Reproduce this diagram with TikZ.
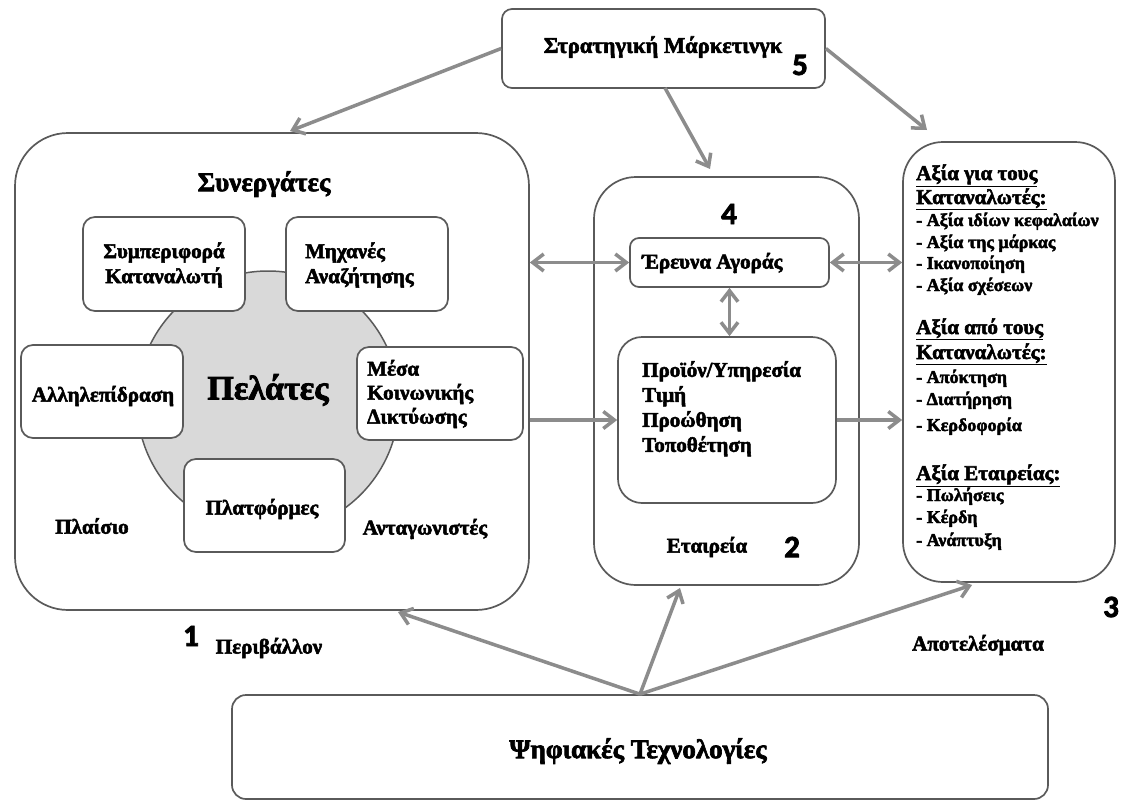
\documentclass[tikz,border=0pt]{standalone}
\usepackage{fontspec}
\setmainfont{Liberation Serif}[BoldFeatures={FakeBold=2.5}]
\newfontfamily\numfont{Carlito Bold}[FakeBold=2.5]
\usetikzlibrary{arrows.meta}
\definecolor{bordergray}{HTML}{5A5A5A}
\definecolor{arrowgray}{HTML}{8C8C8C}
\definecolor{circlegray}{HTML}{D9D9D9}
\begin{document}
\begin{tikzpicture}[x=1pt,y=-1pt,
  >={Straight Barb[length=11pt,width=17pt]},
  frame/.style={draw=bordergray, line width=1.7pt, fill=white, inner sep=0pt},
  lab/.style={font=\bfseries\fontsize{21}{25}\selectfont, inner sep=0pt, align=center},
  item/.style={font=\bfseries\fontsize{18}{22}\selectfont, inner sep=0pt, anchor=base west},
  head/.style={font=\bfseries\fontsize{21}{24}\selectfont, inner sep=0pt, anchor=base west},
  num/.style={font=\numfont\fontsize{31}{33}\selectfont, inner sep=0pt},
  arr/.style={draw=arrowgray, line width=3.5pt, ->},
  darr/.style={draw=arrowgray, line width=3.5pt, <->},
]
\useasboundingbox (0,0) rectangle (1121,803);
\fill[white] (0,0) rectangle (1121,803);

% ---- boxes
\node[frame, rounded corners=10pt, minimum width=323pt, minimum height=79pt] (strat) at (663.5,48.5) {};
\node[frame, rounded corners=53pt, minimum width=514pt, minimum height=477pt] (env) at (272,371.5) {};
\node[circle, draw=bordergray, line width=1.5pt, fill=circlegray, minimum size=262pt, inner sep=0pt] (cust) at (268,402) {};
\node[frame, rounded corners=12pt, minimum width=162pt, minimum height=94pt] (cb) at (164,264) {};
\node[frame, rounded corners=12pt, minimum width=162pt, minimum height=94pt] (se) at (367,264) {};
\node[frame, rounded corners=12pt, minimum width=162pt, minimum height=93pt] (ia) at (102,391.5) {};
\node[frame, rounded corners=12pt, minimum width=166pt, minimum height=93pt] (sm) at (440,393.5) {};
\node[frame, rounded corners=12pt, minimum width=161pt, minimum height=93pt] (pl) at (264.5,505.5) {};

\node[frame, rounded corners=42pt, minimum width=265pt, minimum height=408pt] (comp) at (726.5,381) {};
\node[frame, rounded corners=9pt, minimum width=199pt, minimum height=49pt] (ra) at (729.5,262.5) {};
\node[frame, rounded corners=24pt, minimum width=218pt, minimum height=166pt] (pr) at (727,420) {};
\node[frame, rounded corners=40pt, minimum width=212pt, minimum height=440pt] (res) at (1009,362) {};
\node[frame, rounded corners=14pt, minimum width=816pt, minimum height=104pt] (tech) at (640,747) {};

% ---- texts
\node[lab, font=\bfseries\fontsize{22.5}{26}\selectfont] (tstrat) at (663,47) {Στρατηγική Μάρκετινγκ};
\node[num] (n5) at (800,65) {5};
\node[lab, font=\bfseries\fontsize{27}{30}\selectfont] (tpart) at (264,184) {Συνεργάτες};
\node[lab, font=\bfseries\fontsize{34}{38}\selectfont] (tcust) at (268,390) {Πελάτες};
\node[lab] (tcb) at (164,265) {Συμπεριφορά\\Καταναλωτή};
\node[lab, align=left, anchor=west] (tse) at (305,265) {Μηχανές\\Αναζήτησης};
\node[lab] (tia) at (103,396) {Αλληλεπίδραση};
\node[lab, align=left, anchor=west, font=\bfseries\fontsize{21}{24}\selectfont] (tsm) at (367,394) {Μέσα\\Κοινωνικής\\Δικτύωσης};
\node[lab] (tpl) at (262,509) {Πλατφόρμες};
\node[lab] (tfr) at (92,526) {Πλαίσιο};
\node[lab] (tcomp) at (425,529) {Ανταγωνιστές};
\node[num] (n1) at (191,636) {1};
\node[lab] (tenv) at (269,648) {Περιβάλλον};

\node[num] (n4) at (729,214) {4};
\node[lab, anchor=west] (tra) at (642,263) {Έρευνα Αγοράς};
\node[lab, align=left, anchor=north west] (tpr) at (642,361) {Προϊόν/Υπηρεσία\\Τιμή\\Προώθηση\\Τοποθέτηση};
\node[lab] (tco) at (707,547) {Εταιρεία};
\node[num] (n2) at (792,547) {2};

\node[head] (r1) at (916,180) {\underline{Αξία για τους}};
\node[head] (r2) at (916,204) {\underline{Καταναλωτές:}};
\node[item] (r3) at (916,226) {- Αξία ιδίων κεφαλαίων};
\node[item] (r4) at (916,248) {- Αξία της μάρκας};
\node[item] (r5) at (916,269) {- Ικανοποίηση};
\node[item] (r6) at (916,291) {- Αξία σχέσεων};
\node[head] (r7) at (916,334) {\underline{Αξία από τους}};
\node[head] (r8) at (916,359) {\underline{Καταναλωτές:}};
\node[item] (r9) at (916,383) {- Απόκτηση};
\node[item] (r10) at (916,405) {- Διατήρηση};
\node[item] (r11) at (916,431) {- Κερδοφορία};
\node[head] (r12) at (916,480) {\underline{Αξία Εταιρείας:}};
\node[item] (r13) at (916,501) {- Πωλήσεις};
\node[item] (r14) at (916,523) {- Κέρδη};
\node[item] (r15) at (916,546) {- Ανάπτυξη};
\node[num] (n3) at (1111,607) {3};
\node[lab] (tout) at (978,645) {Αποτελέσματα};

\node[lab, font=\bfseries\fontsize{27}{30}\selectfont] (ttech) at (638,751) {Ψηφιακές Τεχνολογίες};

% ---- connectors
\coordinate (t1) at (290,131);
\coordinate (s2) at (665,88);
\coordinate (t2) at (710,169);
\coordinate (t3) at (927,130);
\coordinate (b1) at (398,612);
\coordinate (b2) at (680,588);
\coordinate (b3) at (972,585);

\draw[arr] (strat.west) -- (t1);
\draw[arr] (s2) -- (t2);
\draw[arr] (strat.east) -- (t3);

\draw[darr] (env.east |- ra.west) -- (ra.west);
\draw[darr] (ra.east) -- (res.west |- ra.east);
\draw[darr] (ra.south) -- (ra.south |- pr.north);
\draw[arr] (env.east |- pr.west) -- (pr.west);
\draw[arr] (pr.east) -- (res.west |- pr.east);

\draw[arr] (tech.north) -- (b1);
\draw[arr] (tech.north) -- (b2);
\draw[arr] (tech.north) -- (b3);
\end{tikzpicture}
\end{document}
